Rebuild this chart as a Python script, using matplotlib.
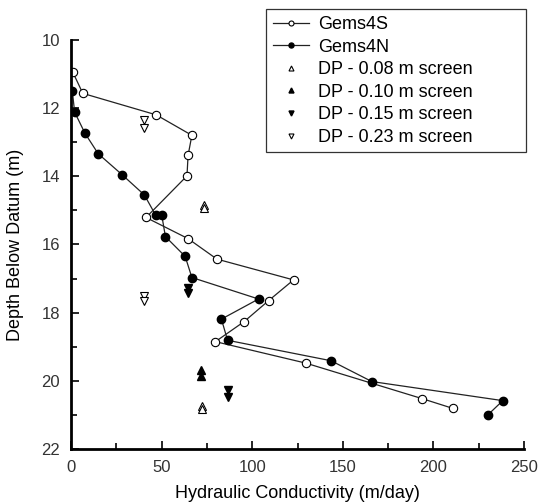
import numpy as np
import matplotlib.pyplot as plt
from matplotlib.ticker import MultipleLocator
from matplotlib.patches import Rectangle

plt.rcParams['font.family'] = ['Liberation Sans', 'DejaVu Sans']

# Gems4S (open circles)
s_k = [1, 6.5, 47, 66.7, 64.6, 64, 41.4, 64.6, 80.5, 122.8, 109, 95.6, 79.7, 129.6, 193.7, 210.9]
s_z = [10.95, 11.57, 12.2, 12.8, 13.39, 13.99, 15.21, 15.83, 16.43, 17.04, 17.65, 18.26, 18.85, 19.48, 20.52, 20.81]

# Gems4N (filled circles)
n_k = [0.7, 2, 7.7, 15, 28.3, 40.5, 46.8, 50.1, 52.1, 63, 66.7, 103.5, 83, 86.4, 143.5, 166, 238.3, 230.2]
n_z = [11.5, 12.12, 12.74, 13.34, 13.96, 14.55, 15.15, 15.15, 15.77, 16.35, 16.97, 17.6, 18.19, 18.81, 19.41, 20.02, 20.58, 20.99]

# direct push points
dp08_k = [73.5, 73.5, 72.5, 72.5]
dp08_z = [14.84, 14.93, 20.73, 20.82]
dp10_k = [72, 72]
dp10_z = [19.68, 19.85]
dp15_k = [64.6, 64.6, 86.4, 86.4]
dp15_z = [17.27, 17.42, 20.26, 20.47]
dp23_k = [40.5, 40.5, 40.3, 40.3]
dp23_z = [12.35, 12.58, 17.5, 17.65]

fig = plt.figure(figsize=(5.38, 5.04), dpi=100)
ax = fig.add_axes([0.132, 0.109, 0.842, 0.812])

ax.plot(s_k, s_z, '-o', color='#222222', lw=0.9, ms=6, mfc='white', mec='black', mew=0.8, label='Gems4S')
ax.plot(n_k, n_z, '-o', color='#222222', lw=0.9, ms=6, mfc='black', mec='black', label='Gems4N')
ax.plot(dp08_k, dp08_z, '^', ls='none', ms=6, mfc='white', mec='black', mew=0.8, label='DP - 0.08 m screen')
ax.plot(dp10_k, dp10_z, '^', ls='none', ms=6, mfc='black', mec='black', label='DP - 0.10 m screen')
ax.plot(dp15_k, dp15_z, 'v', ls='none', ms=6, mfc='black', mec='black', label='DP - 0.15 m screen')
ax.plot(dp23_k, dp23_z, 'v', ls='none', ms=6, mfc='white', mec='black', mew=0.8, label='DP - 0.23 m screen')

ax.set_xlim(0, 250)
ax.set_ylim(22, 10)
ax.xaxis.set_major_locator(MultipleLocator(50))
ax.xaxis.set_minor_locator(MultipleLocator(25))
ax.yaxis.set_major_locator(MultipleLocator(2))
ax.yaxis.set_minor_locator(MultipleLocator(1))
ax.tick_params(which='both', direction='in', width=1.2, labelsize=12, labelcolor='#333333')
ax.tick_params(which='major', length=6, pad=8)
ax.tick_params(which='minor', length=4)

ax.spines['top'].set_visible(False)
ax.spines['right'].set_visible(False)
ax.spines['left'].set_linewidth(2)
ax.spines['bottom'].set_linewidth(2)

ax.set_xlabel('Hydraulic Conductivity (m/day)', fontsize=13, labelpad=7)
ax.set_ylabel('Depth Below Datum (m)', fontsize=13, labelpad=12)

# legend without frame, box drawn separately (wide right margin like the original)
leg = fig.legend(loc='upper left', bbox_to_anchor=(273 / 538, 1 - 16 / 504), fontsize=13,
                 frameon=False, markerscale=0.6, handlelength=2.0, labelspacing=0.31,
                 borderpad=0, borderaxespad=0, handletextpad=0.5)
fig.patches.append(Rectangle((266 / 538, 1 - 152 / 504), 260 / 538, 143 / 504,
                             transform=fig.transFigure, fill=False, lw=0.9, ec='#333333'))

fig.savefig('out.png', dpi=100)
